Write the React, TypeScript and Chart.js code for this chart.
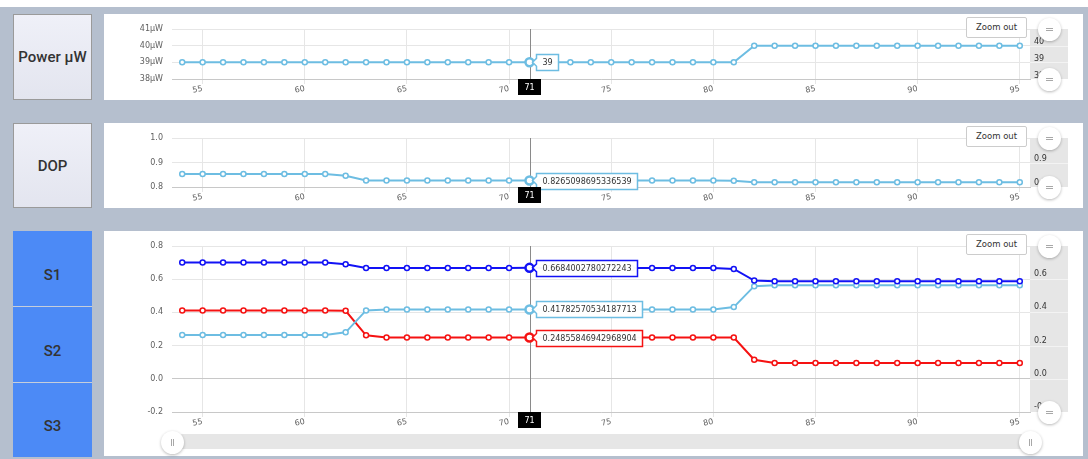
import React, { useEffect, useRef } from "react";
import { Chart, registerables } from "chart.js";

Chart.register(...registerables);

const FONT = "'DejaVu Sans', Verdana, sans-serif";

// ---- data ----
const xValues = [54, 55, 56, 57, 58, 59, 60, 61, 62, 63, 64, 65, 66, 67, 68, 69, 70, 71, 72, 73, 74, 75, 76, 77, 78, 79, 80, 81, 82, 83, 84, 85, 86, 87, 88, 89, 90, 91, 92, 93, 94, 95];
const xTickValues = [55, 60, 65, 70, 75, 80, 85, 90, 95];
const hoverX = 71;

const powerValues = [39, 39, 39, 39, 39, 39, 39, 39, 39, 39, 39, 39, 39, 39, 39, 39, 39, 39, 39, 39, 39, 39, 39, 39, 39, 39, 39, 39, 40, 40, 40, 40, 40, 40, 40, 40, 40, 40, 40, 40, 40, 40];
const powerTicks = [38, 39, 40, 41];
const powerNavTicks = [38, 39, 40];

const dopValues = [0.853, 0.853, 0.853, 0.853, 0.853, 0.853, 0.853, 0.853, 0.846, 0.8265, 0.8265, 0.8265, 0.8265, 0.8265, 0.8265, 0.8265, 0.8265, 0.8265098695336539, 0.8265, 0.8265, 0.8265, 0.8265, 0.8265, 0.8265, 0.8265, 0.8265, 0.8265, 0.826, 0.819, 0.819, 0.819, 0.819, 0.819, 0.819, 0.819, 0.819, 0.819, 0.819, 0.819, 0.819, 0.819, 0.819];
const dopTicks = [0.8, 0.9, 1.0];
const dopNavTicks = [0.8, 0.9];

const s1Values = [0.7, 0.7, 0.7, 0.7, 0.7, 0.7, 0.7, 0.7, 0.69, 0.668, 0.668, 0.668, 0.668, 0.668, 0.668, 0.668, 0.668, 0.6684002780272243, 0.668, 0.668, 0.668, 0.668, 0.668, 0.668, 0.668, 0.668, 0.668, 0.662, 0.592, 0.588, 0.588, 0.588, 0.588, 0.588, 0.588, 0.588, 0.588, 0.588, 0.588, 0.588, 0.588, 0.588];
const s2Values = [0.264, 0.264, 0.264, 0.264, 0.264, 0.264, 0.264, 0.264, 0.28, 0.412, 0.418, 0.418, 0.418, 0.418, 0.418, 0.418, 0.418, 0.41782570534187713, 0.418, 0.418, 0.418, 0.418, 0.418, 0.418, 0.418, 0.418, 0.418, 0.432, 0.558, 0.564, 0.564, 0.564, 0.564, 0.564, 0.564, 0.564, 0.564, 0.564, 0.564, 0.564, 0.564, 0.564];
const s3Values = [0.412, 0.412, 0.412, 0.412, 0.412, 0.412, 0.412, 0.412, 0.41, 0.262, 0.2486, 0.2486, 0.2486, 0.2486, 0.2486, 0.2486, 0.2486, 0.24855846942968904, 0.2486, 0.2486, 0.2486, 0.2486, 0.2486, 0.2486, 0.2486, 0.2486, 0.2486, 0.2486, 0.115, 0.095, 0.095, 0.095, 0.095, 0.095, 0.095, 0.095, 0.095, 0.095, 0.095, 0.095, 0.095, 0.095];
const stokesTicks = [-0.2, 0, 0.2, 0.4, 0.6, 0.8];
const stokesNavTicks = [-0.2, 0, 0.2, 0.4, 0.6];

const LIGHT_BLUE = "#6dbde2";
const BLUE = "#1212f5";
const RED = "#f51212";

type Series = { label: string; values: number[]; color: string };
type Spec = {
  top: number;
  height: number;
  padTop: number;
  xAxisHeight: number;
  yMin: number;
  yMax: number;
  yTicks: number[];
  yLabel: (v: number) => string;
  navMin: number;
  navMax: number;
  navTicks: number[];
  navLabel: (v: number) => string;
  zeroLine?: boolean;
  series: Series[];
};

const CANVAS_LEFT = 104;
const CANVAS_W = 979;
const LEFT_AXIS_W = 68;
const NAV_W = 38;
const RIGHT_PAD = 15;

const panelPlugin = {
  id: "panelDecor",
  beforeDraw(chart: any) {
    const { ctx, chartArea } = chart;
    ctx.save();
    ctx.fillStyle = "#e6e6e6";
    ctx.fillRect(chartArea.right, chartArea.top, NAV_W, chartArea.bottom - chartArea.top);
    const ys = chart.scales.y;
    ctx.strokeStyle = "#f3f3f3";
    ctx.lineWidth = 1;
    ys.ticks.forEach((t: any) => {
      const yy = Math.round(ys.getPixelForValue(t.value)) + 0.5;
      if (yy > chartArea.top + 1 && yy < chartArea.bottom - 1) {
        ctx.beginPath();
        ctx.moveTo(chartArea.right, yy);
        ctx.lineTo(chartArea.right + NAV_W, yy);
        ctx.stroke();
      }
    });
    ctx.restore();
  },
  beforeDatasetsDraw(chart: any) {
    const { ctx, chartArea } = chart;
    const px = Math.round(chart.scales.x.getPixelForValue(hoverX)) + 0.5;
    ctx.save();
    ctx.strokeStyle = "#8a8a8a";
    ctx.lineWidth = 1;
    ctx.beginPath();
    ctx.moveTo(px, chartArea.top);
    ctx.lineTo(px, chartArea.bottom);
    ctx.stroke();
    ctx.restore();
  },
  afterDraw(chart: any) {
    const { ctx, chartArea } = chart;
    const idx = xValues.indexOf(hoverX);
    ctx.save();
    ctx.font = `8px ${FONT}`;
    chart.data.datasets.forEach((ds: any, i: number) => {
      const el = chart.getDatasetMeta(i).data[idx];
      if (!el) return;
      const px = el.x;
      const py = el.y;
      const text = String(ds.data[idx].y);
      const tw = ctx.measureText(text).width;
      const left = Math.round(px + 6) + 0.5;
      const w = Math.round(tw + 12);
      const h = 16;
      const top = Math.round(py - h / 2) + 0.5;
      ctx.beginPath();
      ctx.moveTo(left, top);
      ctx.lineTo(left + w, top);
      ctx.lineTo(left + w, top + h);
      ctx.lineTo(left, top + h);
      ctx.lineTo(left, py + 4);
      ctx.lineTo(px + 3, py);
      ctx.lineTo(left, py - 4);
      ctx.closePath();
      ctx.fillStyle = "rgba(255,255,255,0.97)";
      ctx.fill();
      ctx.strokeStyle = ds.borderColor;
      ctx.lineWidth = 1.5;
      ctx.stroke();
      ctx.fillStyle = "#333333";
      ctx.textBaseline = "middle";
      ctx.textAlign = "left";
      ctx.fillText(text, left + 6, top + h / 2 + 0.5);
    });
    // x label of crosshair
    const cx = chart.scales.x.getPixelForValue(hoverX);
    ctx.fillStyle = "#000000";
    ctx.fillRect(Math.round(cx - 11.5), chartArea.bottom, 23, 16);
    ctx.fillStyle = "#ffffff";
    ctx.textAlign = "center";
    ctx.textBaseline = "middle";
    ctx.fillText(String(hoverX), cx, chartArea.bottom + 8.5);
    ctx.restore();
  },
};

function makeConfig(spec: Spec): any {
  const font = { family: FONT, size: 8 };
  return {
    type: "line",
    data: {
      datasets: spec.series.map((s) => ({
        label: s.label,
        data: xValues.map((x, i) => ({ x, y: s.values[i] })),
        borderColor: s.color,
        backgroundColor: "#ffffff",
        borderWidth: 2,
        pointBackgroundColor: "#ffffff",
        pointBorderColor: s.color,
        pointRadius: (c: any) => (xValues[c.dataIndex] === hoverX ? 4 : 2.5),
        pointBorderWidth: (c: any) => (xValues[c.dataIndex] === hoverX ? 2.5 : 1.5),
        tension: 0,
        fill: false,
      })),
    },
    options: {
      responsive: false,
      animation: false,
      events: [],
      layout: { padding: { top: spec.padTop, right: RIGHT_PAD, left: 0, bottom: 0 } },
      plugins: { legend: { display: false }, tooltip: { enabled: false } },
      scales: {
        x: {
          type: "linear",
          position: "bottom",
          min: 53.5,
          max: 95.5,
          afterBuildTicks: (s: any) => {
            s.ticks = xTickValues.map((v) => ({ value: v }));
          },
          afterFit: (s: any) => {
            s.height = spec.xAxisHeight;
          },
          grid: { color: "#e6e6e6", tickLength: 5, drawTicks: true },
          border: { display: true, color: "#c8c8c8" },
          ticks: {
            autoSkip: false,
            minRotation: 12,
            maxRotation: 12,
            padding: 0,
            color: "#606060",
            font,
            callback: (v: any) => String(v),
          },
        },
        y: {
          type: "linear",
          position: "left",
          min: spec.yMin,
          max: spec.yMax,
          afterBuildTicks: (s: any) => {
            s.ticks = spec.yTicks.map((v) => ({ value: v }));
          },
          afterFit: (s: any) => {
            s.width = LEFT_AXIS_W;
          },
          grid: {
            color: (c: any) => (spec.zeroLine && c.tick && c.tick.value === 0 ? "#c8c8c8" : "#e6e6e6"),
            drawTicks: false,
          },
          border: { display: false },
          ticks: { autoSkip: false, padding: 9, color: "#606060", font, callback: (v: any) => spec.yLabel(Number(v)) },
        },
        y2: {
          type: "linear",
          position: "right",
          min: spec.navMin,
          max: spec.navMax,
          afterBuildTicks: (s: any) => {
            s.ticks = spec.navTicks.map((v) => ({ value: v }));
          },
          afterFit: (s: any) => {
            s.width = NAV_W;
          },
          grid: { display: false, drawTicks: false },
          border: { display: false },
          ticks: { autoSkip: false, padding: 4, color: "#333333", font, callback: (v: any) => spec.navLabel(Number(v)) },
        },
      },
    },
    plugins: [panelPlugin],
  };
}

const specs: Spec[] = [
  {
    top: 14,
    height: 86,
    padTop: 15,
    xAxisHeight: 21,
    yMin: 38,
    yMax: 41,
    yTicks: powerTicks,
    yLabel: (v) => `${v}µW`,
    navMin: 37.82,
    navMax: 40.76,
    navTicks: powerNavTicks,
    navLabel: (v) => String(v),
    series: [{ label: "Power", values: powerValues, color: LIGHT_BLUE }],
  },
  {
    top: 123,
    height: 85,
    padTop: 15,
    xAxisHeight: 21,
    yMin: 0.8,
    yMax: 1.0,
    yTicks: dopTicks,
    yLabel: (v) => v.toFixed(1),
    navMin: 0.783,
    navMax: 0.988,
    navTicks: dopNavTicks,
    navLabel: (v) => v.toFixed(1),
    series: [{ label: "DOP", values: dopValues, color: LIGHT_BLUE }],
  },
  {
    top: 231,
    height: 225,
    padTop: 15,
    xAxisHeight: 44,
    yMin: -0.2,
    yMax: 0.8,
    yTicks: stokesTicks,
    yLabel: (v) => v.toFixed(1),
    navMin: -0.228,
    navMax: 0.768,
    navTicks: stokesNavTicks,
    navLabel: (v) => v.toFixed(1),
    zeroLine: true,
    series: [
      { label: "S1", values: s1Values, color: BLUE },
      { label: "S2", values: s2Values, color: LIGHT_BLUE },
      { label: "S3", values: s3Values, color: RED },
    ],
  },
];

function ChartCanvas({ spec }: { spec: Spec }) {
  const ref = useRef<HTMLCanvasElement>(null);
  useEffect(() => {
    const chart = new Chart(ref.current as HTMLCanvasElement, makeConfig(spec));
    return () => chart.destroy();
  }, []);
  return (
    <canvas
      ref={ref}
      width={CANVAS_W}
      height={spec.height}
      style={{ position: "absolute", left: CANVAS_LEFT, top: spec.top, width: CANVAS_W, height: spec.height }}
    />
  );
}

function Handle({ cx, cy, vertical }: { cx: number; cy: number; vertical?: boolean }) {
  const lineStyle: React.CSSProperties = { position: "absolute", background: "#a8a8a8" };
  return (
    <div
      style={{
        position: "absolute",
        left: cx - 11.5,
        top: cy - 11.5,
        width: 23,
        height: 23,
        borderRadius: "50%",
        background: "#ffffff",
        boxShadow: "0 1px 3px rgba(0,0,0,0.28)",
      }}
    >
      {vertical ? (
        <>
          <div style={{ ...lineStyle, left: 10, top: 8, width: 1, height: 7 }} />
          <div style={{ ...lineStyle, left: 12, top: 8, width: 1, height: 7 }} />
        </>
      ) : (
        <>
          <div style={{ ...lineStyle, left: 8, top: 10, width: 7, height: 1 }} />
          <div style={{ ...lineStyle, left: 8, top: 12, width: 7, height: 1 }} />
        </>
      )}
    </div>
  );
}

function ZoomOut({ top }: { top: number }) {
  return (
    <div
      style={{
        position: "absolute",
        left: 966,
        top,
        width: 59,
        height: 19,
        border: "1px solid #cccccc",
        borderRadius: 2,
        background: "#ffffff",
        color: "#333333",
        fontFamily: FONT,
        fontSize: 8.5,
        lineHeight: "19px",
        textAlign: "center",
      }}
    >
      Zoom out
    </div>
  );
}

function SideButton({ top, height, label }: { top: number; height: number; label: string }) {
  return (
    <div
      style={{
        position: "absolute",
        left: 13,
        top,
        width: 77,
        height: height - 2,
        border: "1px solid #9a9a9a",
        background: "linear-gradient(#eff0f8, #e3e5ef)",
        color: "#333333",
        fontFamily: "Roboto, 'Noto Sans', sans-serif",
        fontWeight: 500,
        fontSize: 15,
        display: "flex",
        alignItems: "center",
        justifyContent: "center",
        whiteSpace: "nowrap",
      }}
    >
      {label}
    </div>
  );
}

function BlueButton({ top, height, label, sep }: { top: number; height: number; label: string; sep?: boolean }) {
  return (
    <div
      style={{
        position: "absolute",
        left: 13,
        top,
        width: 79,
        height: height - (sep ? 1 : 0),
        borderTop: sep ? "1px solid #c6cedb" : "none",
        background: "#4c8af6",
        color: "#333333",
        fontFamily: "Roboto, 'Noto Sans', sans-serif",
        fontWeight: 500,
        fontSize: 15,
        display: "flex",
        alignItems: "center",
        justifyContent: "center",
        paddingTop: 0,
        boxSizing: "content-box",
      }}
    >
      <span style={{ position: "relative", top: 6 }}>{label}</span>
    </div>
  );
}

export default function App() {
  return (
    <div style={{ position: "fixed", left: 0, top: 0, width: 1088, height: 459, background: "#ffffff", overflow: "hidden" }}>
      <div style={{ position: "absolute", left: 0, top: 7, width: 1088, height: 452, background: "#b5bfce" }} />
      <SideButton top={14} height={86} label="Power µW" />
      <SideButton top={123} height={85} label="DOP" />
      <BlueButton top={231} height={75} label="S1" />
      <BlueButton top={306} height={76} label="S2" sep />
      <BlueButton top={382} height={75} label="S3" sep />
      {specs.map((spec, i) => (
        <div
          key={"p" + i}
          style={{ position: "absolute", left: CANVAS_LEFT, top: spec.top, width: CANVAS_W, height: spec.height, background: "#ffffff" }}
        />
      ))}
      {specs.map((spec, i) => (
        <ChartCanvas key={"c" + i} spec={spec} />
      ))}
      {specs.map((spec, i) => {
        const plotTop = spec.top + spec.padTop;
        const plotBottom = spec.top + spec.height - spec.xAxisHeight;
        return (
          <React.Fragment key={"h" + i}>
            <ZoomOut top={spec.top + 3} />
            <Handle cx={1049.5} cy={plotTop} />
            <Handle cx={1049.5} cy={plotBottom} />
          </React.Fragment>
        );
      })}
      <div style={{ position: "absolute", left: 172, top: 434, width: 858, height: 15, background: "#e6e6e6" }} />
      <Handle cx={172} cy={442} vertical />
      <Handle cx={1030} cy={442} vertical />
    </div>
  );
}
